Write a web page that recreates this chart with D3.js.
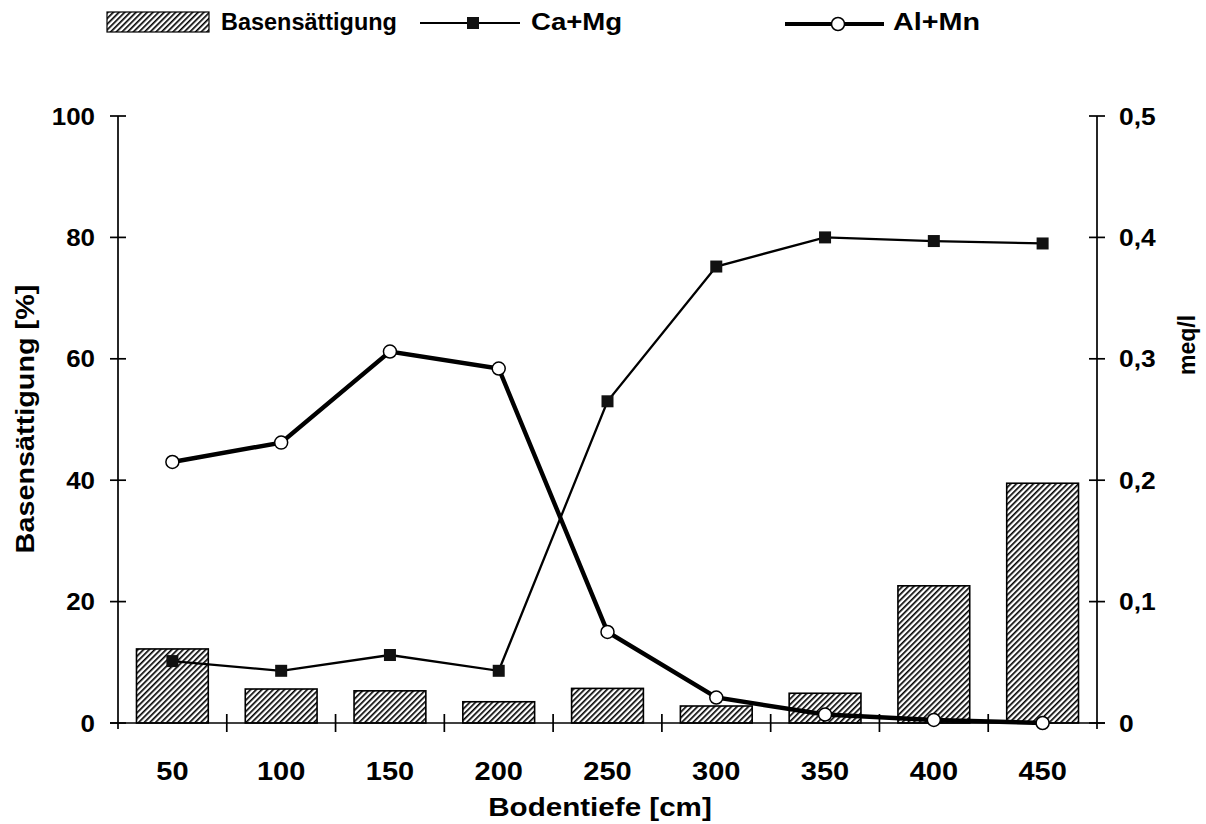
<!DOCTYPE html>
<html>
<head>
<meta charset="utf-8">
<script src="https://cdn.jsdelivr.net/npm/d3@7/dist/d3.min.js"></script>
<style>
  html, body { margin: 0; padding: 0; background: #fff; }
  svg { display: block; }
  text { font-family: "Liberation Sans", Arial, sans-serif; font-weight: bold; fill: #000; }
</style>
</head>
<body>
<svg id="chart" width="1206" height="824"></svg>
<script>
// Soil depth categories (cm)
const depths = ["50", "100", "150", "200", "250", "300", "350", "400", "450"];
// Base saturation per depth (%), left axis
const baseSaturation = [12.2, 5.6, 5.3, 3.5, 5.7, 2.8, 4.9, 22.6, 39.5];
// Ca+Mg concentration (meq/l), right axis
const caMg = [0.051, 0.043, 0.056, 0.043, 0.265, 0.376, 0.400, 0.397, 0.395];
// Al+Mn concentration (meq/l), right axis
const alMn = [0.215, 0.231, 0.306, 0.292, 0.075, 0.021, 0.007, 0.0025, 0.0];
// Tick labels
const leftTicks = [0, 20, 40, 60, 80, 100];
const rightTicks = [0, 0.1, 0.2, 0.3, 0.4, 0.5];

const svg = d3.select("#chart");
const plot = { left: 118, right: 1097, top: 116, bottom: 723 };

// Places a label at (px, py), optionally rotated, with horizontally widened lettering
function label(g, px, py, txt, anchor, size, stretch, rot) {
  return g.append("text")
    .attr("transform", `translate(${px},${py})` + (rot ? ` rotate(${rot})` : "") + ` scale(${stretch},1)`)
    .attr("text-anchor", anchor).attr("dy", "0.36em")
    .attr("font-size", size).text(txt);
}

const x = d3.scaleBand().domain(depths).range([plot.left, plot.right]).paddingInner(0.34).paddingOuter(0.17);
const band = d3.scaleBand().domain(depths).range([plot.left, plot.right]);
const yL = d3.scaleLinear().domain([0, 100]).range([plot.bottom, plot.top]);
const yR = d3.scaleLinear().domain([0, 0.5]).range([plot.bottom, plot.top]);
const cx = d => band(d) + band.bandwidth() / 2;

// Hatch pattern for the bars
const defs = svg.append("defs");
const pat = defs.append("pattern")
  .attr("id", "hatch").attr("patternUnits", "userSpaceOnUse")
  .attr("width", 4).attr("height", 4)
  .attr("patternTransform", "rotate(45)");
pat.append("rect").attr("width", 4).attr("height", 4).attr("fill", "#fff");
pat.append("line").attr("x1", 0.5).attr("y1", 0).attr("x2", 0.5).attr("y2", 4)
  .attr("stroke", "#000").attr("stroke-width", 2.3);

// Bars
svg.append("g").selectAll("rect").data(depths).join("rect")
  .attr("x", d => x(d))
  .attr("width", x.bandwidth())
  .attr("y", (d, i) => yL(baseSaturation[i]))
  .attr("height", (d, i) => yL(0) - yL(baseSaturation[i]))
  .attr("fill", "url(#hatch)")
  .attr("stroke", "#000").attr("stroke-width", 1.6);

// Axes
const axisG = svg.append("g").attr("stroke", "#000").attr("stroke-width", 1.7);
axisG.append("line").attr("x1", plot.left).attr("x2", plot.left).attr("y1", plot.top).attr("y2", plot.bottom + 6);
axisG.append("line").attr("x1", plot.right).attr("x2", plot.right).attr("y1", plot.top).attr("y2", plot.bottom + 6);
axisG.append("line").attr("x1", plot.left - 8).attr("x2", plot.right + 8).attr("y1", plot.bottom).attr("y2", plot.bottom);

// Left ticks and labels
axisG.selectAll(".lt").data(leftTicks).join("line")
  .attr("x1", plot.left - 8).attr("x2", plot.left + 8)
  .attr("y1", d => yL(d)).attr("y2", d => yL(d));
const lgL = svg.append("g");
leftTicks.forEach(d => label(lgL, 95, yL(d), String(d), "end", 24, 1.08));

// Right ticks and labels
axisG.selectAll(".rt").data(rightTicks).join("line")
  .attr("x1", plot.right - 8).attr("x2", plot.right + 8)
  .attr("y1", d => yR(d)).attr("y2", d => yR(d));
const lgR = svg.append("g");
rightTicks.forEach(d => label(lgR, 1119, yR(d),
  d === 0 ? "0" : d3.format(".1f")(d).replace(".", ","), "start", 24, 1.1));

// Bottom category dividers
const dividers = depths.slice(1).map(d => band(d));
axisG.selectAll(".bt").data(dividers).join("line")
  .attr("x1", d => d).attr("x2", d => d)
  .attr("y1", plot.bottom - 9).attr("y2", plot.bottom + 9);

// Category labels
const lgX = svg.append("g");
depths.forEach(d => label(lgX, cx(d), 771, d, "middle", 25, 1.16));

// Axis titles
label(svg, 600, 807, "Bodentiefe [cm]", "middle", 25.5, 1.16);
label(svg, 25, 419, "Basensättigung [%]", "middle", 25.5, 1.13, -90);
label(svg, 1187, 345, "meq/l", "middle", 23, 1.0, -90);

// Lines
const line = d3.line().x((v, i) => cx(depths[i])).y(v => yR(v));
svg.append("path").datum(caMg).attr("d", line)
  .attr("fill", "none").attr("stroke", "#000").attr("stroke-width", 2.3);
svg.append("path").datum(alMn).attr("d", line)
  .attr("fill", "none").attr("stroke", "#000").attr("stroke-width", 4.4);

// Markers
svg.append("g").selectAll("rect").data(caMg).join("rect")
  .attr("x", (v, i) => cx(depths[i]) - 6).attr("y", v => yR(v) - 6)
  .attr("width", 12).attr("height", 12).attr("fill", "#111");
svg.append("g").selectAll("circle").data(alMn).join("circle")
  .attr("cx", (v, i) => cx(depths[i])).attr("cy", v => yR(v)).attr("r", 6.5)
  .attr("fill", "#fff").attr("stroke", "#000").attr("stroke-width", 1.5);

// Legend
const lg = svg.append("g");
lg.append("rect").attr("x", 107).attr("y", 12).attr("width", 102).attr("height", 20)
  .attr("fill", "url(#hatch)").attr("stroke", "#000").attr("stroke-width", 1.2);
label(lg, 221, 22, "Basensättigung", "start", 23, 1.02);
lg.append("line").attr("x1", 420).attr("x2", 520).attr("y1", 23).attr("y2", 23)
  .attr("stroke", "#000").attr("stroke-width", 2.2);
lg.append("rect").attr("x", 467).attr("y", 17).attr("width", 12).attr("height", 12).attr("fill", "#111");
label(lg, 531, 22, "Ca+Mg", "start", 23, 1.2);
lg.append("line").attr("x1", 785).attr("x2", 884).attr("y1", 24).attr("y2", 24)
  .attr("stroke", "#000").attr("stroke-width", 4);
lg.append("circle").attr("cx", 838).attr("cy", 24).attr("r", 6.5)
  .attr("fill", "#fff").attr("stroke", "#000").attr("stroke-width", 1.5);
label(lg, 893, 22, "Al+Mn", "start", 23, 1.25);
</script>
</body>
</html>
